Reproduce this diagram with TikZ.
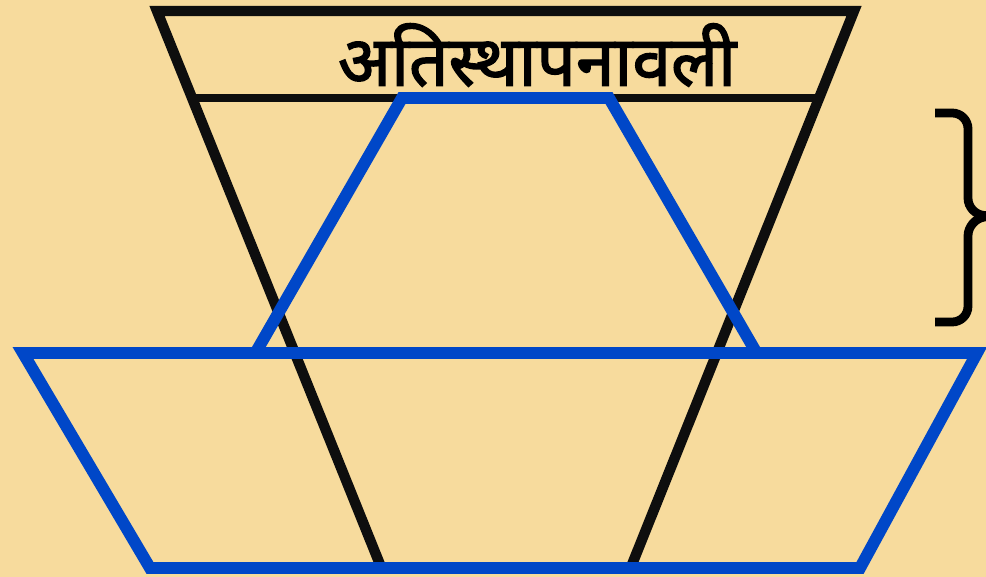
\documentclass[tikz,border=0pt]{standalone}
\usepackage{fontspec}
\newfontfamily\devfont[Script=Devanagari,FakeBold=2]{Noto Sans}
\definecolor{bgwheat}{HTML}{F7DB9D}
\definecolor{lineblue}{HTML}{0047C8}
\definecolor{lineblack}{HTML}{0E0E0E}
\tikzset{
  blueline/.style={draw=lineblue,line width=6.8pt,line join=miter},
  blackline/.style={draw=lineblack,line width=5.9pt,line join=miter}
}
\begin{document}
\begin{tikzpicture}[x=0.02cm,y=-0.02cm]
 \fill [bgwheat](0,0) rectangle (986,577);
 \useasboundingbox (0,0) rectangle (986,577);
 \coordinate (tl) at (157,11);
 \coordinate (tr) at (854,11);
 \coordinate (bl) at (381,567);
 \coordinate (br) at (631,567);
 \draw [blackline] (bl) -- (tl) -- (tr) -- (br);
 \draw [draw=lineblack,line width=4pt] (192,98) -- (818,98);
 \node (title) at (537,55) {\devfont\fontsize{39.5}{44}\selectfont अतिस्थापनावली};
 \draw [blueline] (256,352) -- (402,98) -- (609,98) -- (756,352);
 \draw [blueline] (23,353) -- (977,353) -- (860,568) -- (150,568) -- cycle;
 \draw [draw=black,line width=5pt,rounded corners=9pt] (935,113) -- (968,113) -- (968,214) -- (990,216);
 \draw [draw=black,line width=5pt,rounded corners=9pt] (935,322) -- (968,322) -- (968,220) -- (990,216);
\end{tikzpicture}
\end{document}
